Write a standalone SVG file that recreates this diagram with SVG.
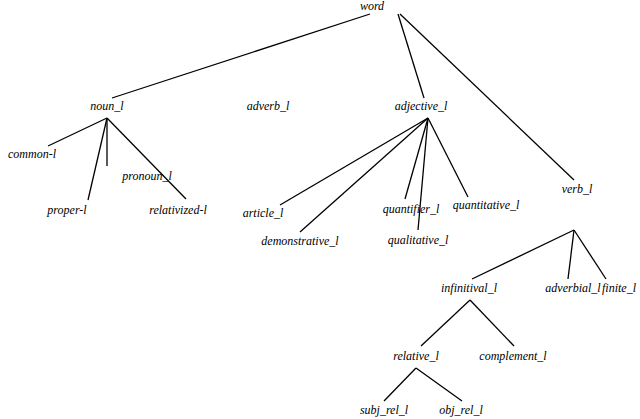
<svg xmlns="http://www.w3.org/2000/svg" width="640" height="419" viewBox="0 0 640 419">
<style>
text{font-family:"Liberation Serif","Times New Roman","DejaVu Serif",serif;font-style:italic;font-size:12px;text-anchor:middle;fill:#000}
line{stroke:#000;stroke-width:1.3}
</style>
<rect width="640" height="419" fill="#fff"/>
<g id="connectors">
<line x1="370" y1="14" x2="112" y2="98"/>
<line x1="398" y1="14" x2="424" y2="98"/>
<line x1="400" y1="14" x2="574" y2="180"/>
<line x1="107" y1="118" x2="48" y2="146"/>
<line x1="107" y1="118" x2="88" y2="200"/>
<line x1="107" y1="118" x2="107" y2="166"/>
<line x1="107" y1="118" x2="186" y2="199"/>
<line x1="428" y1="118" x2="280" y2="205"/>
<line x1="428" y1="118" x2="300" y2="232"/>
<line x1="428" y1="118" x2="405" y2="199"/>
<line x1="428" y1="118" x2="418" y2="230"/>
<line x1="428" y1="118" x2="468" y2="197"/>
<line x1="574" y1="230" x2="472" y2="279"/>
<line x1="574" y1="230" x2="568" y2="279"/>
<line x1="574" y1="230" x2="606" y2="279"/>
<line x1="470" y1="300" x2="421" y2="346"/>
<line x1="470" y1="300" x2="514" y2="346"/>
<line x1="416" y1="368" x2="384" y2="401"/>
<line x1="416" y1="368" x2="462" y2="401"/>
</g>
<g id="word"><text x="372" y="10">word</text></g>
<g id="noun_l"><text x="107" y="110">noun_l</text></g>
<g id="adverb_l"><text x="268" y="110">adverb_l</text></g>
<g id="adjective_l"><text x="421" y="110">adjective_l</text></g>
<g id="verb_l"><text x="577" y="193">verb_l</text></g>
<g id="common-l"><text x="32" y="158">common-l</text></g>
<g id="proper-l"><text x="67" y="214">proper-l</text></g>
<g id="pronoun_l"><text x="147" y="180">pronoun_l</text></g>
<g id="relativized-l"><text x="178" y="214">relativized-l</text></g>
<g id="article_l"><text x="263" y="217">article_l</text></g>
<g id="demonstrative_l"><text x="300" y="245">demonstrative_l</text></g>
<g id="quantifier_l"><text x="411" y="213">quantifier_l</text></g>
<g id="qualitative_l"><text x="418" y="244">qualitative_l</text></g>
<g id="quantitative_l"><text x="486" y="209">quantitative_l</text></g>
<g id="infinitival_l"><text x="469" y="292">infinitival_l</text></g>
<g id="adverbial_l"><text x="573" y="292">adverbial_l</text></g>
<g id="finite_l"><text x="619" y="292">finite_l</text></g>
<g id="relative_l"><text x="416" y="360">relative_l</text></g>
<g id="complement_l"><text x="513" y="360">complement_l</text></g>
<g id="subj_rel_l"><text x="384" y="414">subj_rel_l</text></g>
<g id="obj_rel_l"><text x="461" y="414">obj_rel_l</text></g>
</svg>
